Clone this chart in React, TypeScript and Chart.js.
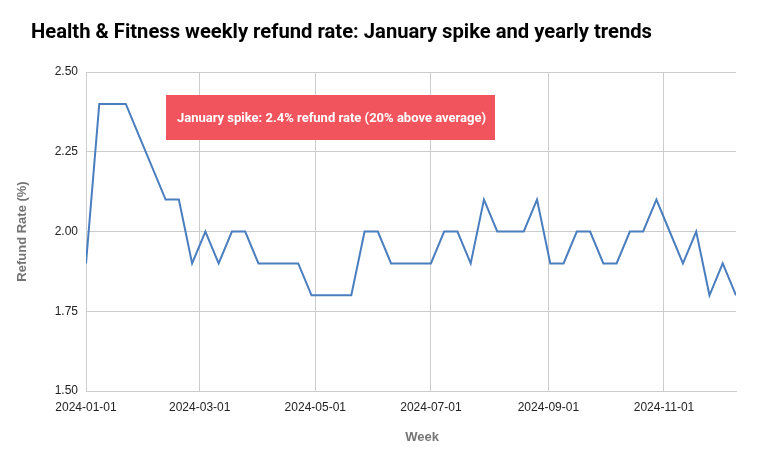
import React, { useEffect, useRef } from "react";
import { Chart, registerables } from "chart.js";

Chart.register(...registerables);

const chartTitle = "Health & Fitness weekly refund rate: January spike and yearly trends";
const xAxisTitle = "Week";
const yAxisTitle = "Refund Rate (%)";
const annotationText = "January spike: 2.4% refund rate (20% above average)";

const weekStarts: string[] = [
  "2024-01-01", "2024-01-08", "2024-01-15", "2024-01-22", "2024-01-29",
  "2024-02-05", "2024-02-12", "2024-02-19", "2024-02-26",
  "2024-03-04", "2024-03-11", "2024-03-18", "2024-03-25",
  "2024-04-01", "2024-04-08", "2024-04-15", "2024-04-22", "2024-04-29",
  "2024-05-06", "2024-05-13", "2024-05-20", "2024-05-27",
  "2024-06-03", "2024-06-10", "2024-06-17", "2024-06-24",
  "2024-07-01", "2024-07-08", "2024-07-15", "2024-07-22", "2024-07-29",
  "2024-08-05", "2024-08-12", "2024-08-19", "2024-08-26",
  "2024-09-02", "2024-09-09", "2024-09-16", "2024-09-23", "2024-09-30",
  "2024-10-07", "2024-10-14", "2024-10-21", "2024-10-28",
  "2024-11-04", "2024-11-11", "2024-11-18", "2024-11-25",
  "2024-12-02", "2024-12-09",
];

const refundRates: number[] = [
  1.9, 2.4, 2.4, 2.4, 2.3, 2.2, 2.1, 2.1, 1.9, 2.0,
  1.9, 2.0, 2.0, 1.9, 1.9, 1.9, 1.9, 1.8, 1.8, 1.8,
  1.8, 2.0, 2.0, 1.9, 1.9, 1.9, 1.9, 2.0, 2.0, 1.9,
  2.1, 2.0, 2.0, 2.0, 2.1, 1.9, 1.9, 2.0, 2.0, 1.9,
  1.9, 2.0, 2.0, 2.1, 2.0, 1.9, 2.0, 1.8, 1.9, 1.8,
];

const xTickLabels: string[] = [
  "2024-01-01", "2024-03-01", "2024-05-01", "2024-07-01", "2024-09-01", "2024-11-01",
];

const yTickValues: number[] = [1.5, 1.75, 2.0, 2.25, 2.5];

const DAY = 86400000;
const origin = Date.parse(weekStarts[0]);
const toDay = (s: string) => Math.round((Date.parse(s) - origin) / DAY);

export default function App() {
  const ref = useRef<HTMLCanvasElement>(null);

  useEffect(() => {
    document.body.style.margin = "0";
    const canvas = ref.current!;
    const points = weekStarts.map((d, i) => ({ x: toDay(d), y: refundRates[i] }));
    const tickDays = xTickLabels.map(toDay);

    const overlay = {
      id: "overlay",
      afterDraw(chart: any) {
        const ctx = chart.ctx as CanvasRenderingContext2D;
        const ca = chart.chartArea;
        ctx.save();
        // title
        ctx.fillStyle = "#000000";
        ctx.font = "bold 20.3px Roboto";
        ctx.textAlign = "left";
        ctx.textBaseline = "middle";
        ctx.fillText(chartTitle, 31, 33, 621);
        // x title
        ctx.fillStyle = "#757575";
        ctx.font = "bold 13px 'Liberation Sans'";
        ctx.textAlign = "center";
        ctx.fillText(xAxisTitle, 422, 437);
        // y title
        ctx.save();
        ctx.translate(22, (ca.top + ca.bottom) / 2);
        ctx.rotate(-Math.PI / 2);
        ctx.fillText(yAxisTitle, 0, 0);
        ctx.restore();
        // annotation
        const bx = ca.left + 80;
        const by = ca.top + 23;
        const bw = 329;
        const bh = 45;
        ctx.fillStyle = "#F1545D";
        ctx.fillRect(bx, by, bw, bh);
        ctx.fillStyle = "#ffffff";
        ctx.font = "bold 13px Roboto";
        ctx.textAlign = "center";
        ctx.fillText(annotationText, bx + bw / 2 + 1, by + bh / 2 + 1, 318);
        ctx.restore();
      },
    };

    const chart = new Chart(canvas, {
      type: "line",
      data: {
        datasets: [
          {
            data: points,
            borderColor: "#4A7EBF",
            borderWidth: 2,
            pointRadius: 0,
            tension: 0,
            fill: false,
          },
        ],
      },
      options: {
        animation: false,
        responsive: false,
        maintainAspectRatio: false,
        layout: { padding: { left: 15, right: 23, top: 72, bottom: 24 } },
        plugins: {
          legend: { display: false },
          tooltip: { enabled: false },
          title: { display: false },
        },
        scales: {
          x: {
            type: "linear",
            min: 0,
            max: toDay(weekStarts[weekStarts.length - 1]),
            afterBuildTicks: (scale: any) => {
              scale.ticks = tickDays.map((v) => ({ value: v }));
            },
            afterFit: (scale: any) => {
              scale.height = 53;
            },
            grid: { color: "#cccccc", drawTicks: false },
            border: { color: "#cccccc" },
            ticks: {
              padding: 9,
              maxRotation: 0,
              autoSkip: false,
              color: "#222222",
              font: { family: "'Liberation Sans'", size: 12 },
              callback: (v: any) => {
                const i = tickDays.indexOf(Number(v));
                return i >= 0 ? xTickLabels[i] : "";
              },
            },
          },
          y: {
            type: "linear",
            min: 1.5,
            max: 2.5,
            afterBuildTicks: (scale: any) => {
              scale.ticks = yTickValues.map((v) => ({ value: v }));
            },
            afterFit: (scale: any) => {
              scale.width = 71;
            },
            grid: { color: "#cccccc", drawTicks: false },
            border: { color: "#cccccc" },
            ticks: {
              padding: 8,
              color: "#222222",
              font: { family: "'Liberation Sans'", size: 12 },
              callback: (v: any) => Number(v).toFixed(2),
            },
          },
        },
      },
      plugins: [overlay],
    });
    return () => chart.destroy();
  }, []);

  return <canvas ref={ref} width={759} height={468} style={{ display: "block" }} />;
}
